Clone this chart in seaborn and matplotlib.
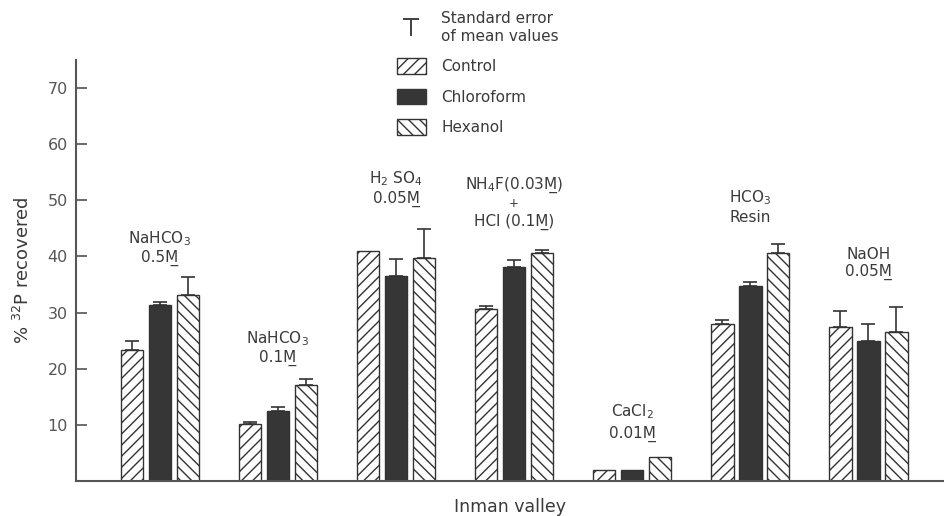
import numpy as np
import pandas as pd
import seaborn as sns
import matplotlib
matplotlib.use("Agg")
import matplotlib.pyplot as plt
from matplotlib.patches import Patch
from matplotlib.lines import Line2D

# ---------------- data ----------------
groups = ["NaHCO3 0.5M", "NaHCO3 0.1M", "H2SO4 0.05M", "NH4F+HCl",
          "CaCl2 0.01M", "HCO3 Resin", "NaOH 0.05M"]
treatments = ["Control", "Chloroform", "Hexanol"]
control = [23.3, 10.1, 41.0, 30.7, 1.9, 28.0, 27.4]
chloroform = [31.3, 12.5, 36.6, 38.1, 1.9, 34.8, 24.9]
hexanol = [33.2, 17.1, 39.7, 40.6, 4.3, 40.7, 26.6]
se_control = [1.6, 0.4, 0.0, 0.4, 0.0, 0.6, 2.8]
se_chloroform = [0.6, 0.7, 3.0, 1.3, 0.0, 0.6, 3.0]
se_hexanol = [3.1, 1.1, 5.2, 0.6, 0.0, 1.5, 4.4]

group_text = [
    ["NaHCO$_3$", "0.5M\u0332"],
    ["NaHCO$_3$", "0.1M\u0332"],
    ["H$_2$ SO$_4$", "0.05M\u0332"],
    ["NH$_4$F(0.03M\u0332)", "+", "HCl (0.1M\u0332)"],
    ["CaCl$_2$", "0.01M\u0332"],
    ["HCO$_3$", "Resin"],
    ["NaOH", "0.05M\u0332"],
]
yticks = [10, 20, 30, 40, 50, 60, 70]

# label layout (data units)
label_y = [[43.2, 39.7], [25.4, 21.9], [53.9, 50.2], [52.6, 49.5, 46.2],
           [12.3, 8.4], [50.5, 47.0], [40.4, 37.2]]

df = pd.DataFrame({
    "group": np.repeat(groups, 3),
    "treatment": treatments * len(groups),
    "value": np.ravel(np.column_stack([control, chloroform, hexanol])),
})
se = {"Control": se_control, "Chloroform": se_chloroform, "Hexanol": se_hexanol}

sns.set_style("ticks")
plt.rcParams["font.family"] = ["DejaVu Sans"]
plt.rcParams["hatch.linewidth"] = 1.0
plt.rcParams["hatch.color"] = "#333333"

INK = "#3a3a3a"
fig = plt.figure(figsize=(9.44, 5.16), dpi=100)
ax = fig.add_axes([76 / 944, (516 - 481) / 516, 1 - 76 / 944, (481 - 60) / 516])

palette = {"Control": "white", "Chloroform": "#363636", "Hexanol": "white"}
sns.barplot(data=df, x="group", y="value", hue="treatment", order=groups,
            hue_order=treatments, palette=palette, width=0.71, gap=0.2,
            edgecolor="#333333", linewidth=1.0, legend=False, ax=ax,
            saturation=1)

hatches = {"Control": "///", "Chloroform": "", "Hexanol": "\\\\\\"}
for cont, t in zip(ax.containers, treatments):
    xs, hs = [], []
    for p in cont:
        p.set_hatch(hatches[t])
        xs.append(p.get_x() + p.get_width() / 2)
        hs.append(p.get_height())
    err = np.array(se[t])
    mask = err > 0
    ax.errorbar(np.array(xs)[mask], np.array(hs)[mask],
                yerr=[np.zeros(mask.sum()), err[mask]],
                fmt="none", ecolor="#333333", elinewidth=1.2, capsize=5,
                capthick=1.2)

for i, (lines, ys) in enumerate(zip(group_text, label_y)):
    for s, y in zip(lines, ys):
        fs = 8.5 if s == "+" else 11
        ax.text(i, y, s, ha="center", va="center", fontsize=fs, color=INK)

ax.set_xlim(-0.71, 6.64)
ax.set_ylim(0, 75)
ax.set_yticks(yticks)
ax.set_yticklabels([str(v) for v in yticks], fontsize=11.5, color="#555555")
ax.tick_params(axis="y", direction="in", length=8, width=1.2, color="#555555", pad=6)
ax.tick_params(axis="x", length=0, labelbottom=False)
for s in ["top", "right"]:
    ax.spines[s].set_visible(False)
for s in ["left", "bottom"]:
    ax.spines[s].set_color("#555555")
    ax.spines[s].set_linewidth(1.5)
ax.set_xlabel("Inman valley", fontsize=12.5, color=INK, labelpad=12)
ax.set_ylabel("% $^{32}$P recovered", fontsize=13, color=INK, labelpad=10)

handles = [
    Line2D([], [], marker="$\\mathregular{T}$", ls="none", ms=13, color="#444444",
           markeredgewidth=0),
    Patch(facecolor="white", edgecolor="#333333", hatch="///"),
    Patch(facecolor="#363636", edgecolor="#363636"),
    Patch(facecolor="white", edgecolor="#333333", hatch="\\\\\\"),
]
labels = ["Standard error\nof mean values", "Control", "Chloroform", "Hexanol"]
leg = fig.legend(handles, labels, loc="upper left", bbox_to_anchor=(383 / 944, 1.005),
                 frameon=False, fontsize=11, handlelength=1.9, handleheight=1.2,
                 labelspacing=0.95, handletextpad=1.0, labelcolor=INK)

fig.savefig("out.png", dpi=100)
